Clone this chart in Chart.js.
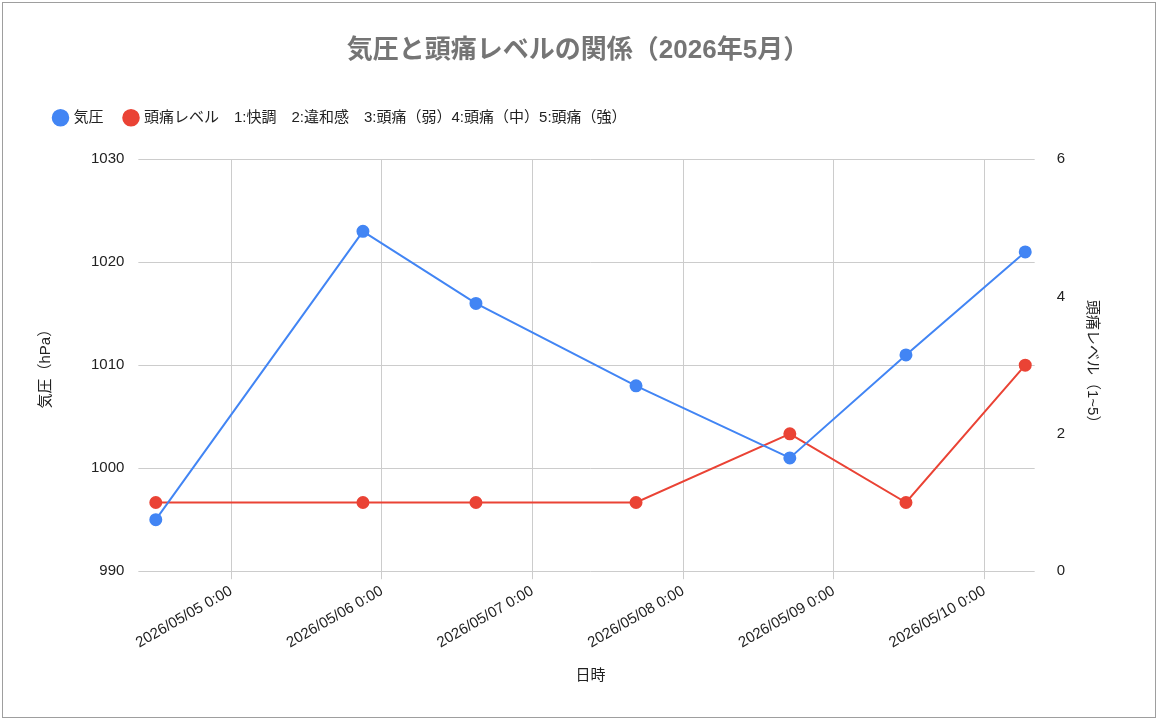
<!DOCTYPE html>
<html><head><meta charset="utf-8">
<script src="https://cdn.jsdelivr.net/npm/chart.js@4"></script>
<style>
body{margin:0;background:#fff}
#wrap{position:absolute;left:2px;top:2px;width:1154px;height:716px;border:1px solid #9e9e9e;box-sizing:border-box}
</style></head><body>
<div id="wrap"><canvas id="c"></canvas></div>
<script>
// Data
const times = ['2026-05-04 12:00','2026-05-05 21:00','2026-05-06 15:00','2026-05-07 16:30','2026-05-08 17:00','2026-05-09 11:30','2026-05-10 06:30'];
const pressure = [995, 1023, 1016, 1008, 1001, 1011, 1021];
const headache = [1, 1, 1, 1, 2, 1, 3];

const base = Date.UTC(2026, 4, 5);
function toHours(s) {
    const [d, t] = s.split(' ');
    const [y, m, dd] = d.split('-').map(Number);
    const [h, mi] = t.split(':').map(Number);
    return (Date.UTC(y, m - 1, dd, h, mi) - base) / 3600000;
}
function fmt(h) {
    const dt = new Date(base + h * 3600000);
    const p = n => String(n).padStart(2, '0');
    return `${dt.getUTCFullYear()}/${p(dt.getUTCMonth() + 1)}/${p(dt.getUTCDate())} ${dt.getUTCHours()}:${p(dt.getUTCMinutes())}`;
}
const xs = times.map(toHours);

Chart.defaults.font.family = '"Liberation Sans", Arial, "Noto Sans CJK JP", sans-serif';
Chart.defaults.color = '#222';

// extra space below the legend
const legendGap = {
    id: 'legendGap',
    beforeInit(chart) {
        const orig = chart.legend.fit;
        chart.legend.fit = function () { orig.call(this); this.height += 24; };
    }
};

new Chart(document.getElementById('c'), {
    type: 'line',
    plugins: [legendGap],
    data: {
        datasets: [{
            label: '気圧',
            data: xs.map((x, i) => ({ x, y: pressure[i] })),
            borderColor: '#4285f4', backgroundColor: '#4285f4',
            borderWidth: 2, pointRadius: 5.5, pointHoverRadius: 5.5, yAxisID: 'y'
        }, {
            label: '頭痛レベル　1:快調　2:違和感　3:頭痛（弱）4:頭痛（中）5:頭痛（強）',
            data: xs.map((x, i) => ({ x, y: headache[i] })),
            borderColor: '#ea4335', backgroundColor: '#ea4335',
            borderWidth: 2, pointRadius: 5.5, pointHoverRadius: 5.5, yAxisID: 'y1'
        }]
    },
    options: {
        responsive: true, maintainAspectRatio: false, animation: false,
        layout: { padding: { left: 30, right: 32, top: 32, bottom: 28 } },
        plugins: {
            title: { display: true, text: '気圧と頭痛レベルの関係（2026年5月）', color: '#757575',
                font: { size: 26, weight: 'bold' }, padding: { bottom: 22 } },
            legend: { align: 'start', labels: { usePointStyle: true, pointStyle: 'circle', boxWidth: 11, boxHeight: 11,
                font: { size: 15 }, padding: 22 } }
        },
        scales: {
            x: {
                type: 'linear', min: -13.5, max: 128,
                afterBuildTicks: ax => { ax.ticks = [0, 24, 48, 72, 96, 120].map(v => ({ value: v })); },
                ticks: { callback: v => fmt(v), maxRotation: 30, minRotation: 30, font: { size: 15 } },
                grid: { color: '#cccccc' }, border: { display: false },
                title: { display: true, text: '日時', font: { size: 15 }, padding: { top: 12 } }
            },
            y: {
                position: 'left', min: 990, max: 1030,
                ticks: { stepSize: 10, font: { size: 15 }, padding: 14, callback: v => String(v) },
                grid: { color: '#cccccc' }, border: { display: false },
                title: { display: true, text: '気圧（hPa）', font: { size: 15 }, padding: { bottom: 22 } }
            },
            y1: {
                position: 'right', min: 0, max: 6,
                ticks: { stepSize: 2, font: { size: 15 }, padding: 14 },
                grid: { display: false }, border: { display: false },
                title: { display: true, text: '頭痛レベル（1~5）', font: { size: 15 }, padding: { top: 22 } }
            }
        }
    }
});
</script>
</body></html>
